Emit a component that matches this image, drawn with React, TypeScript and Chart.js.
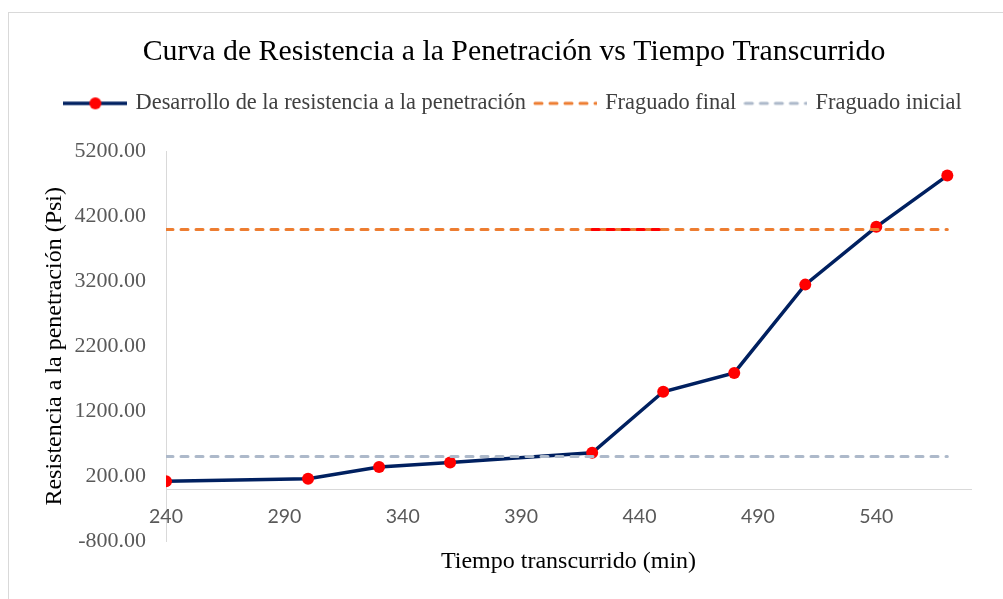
import React, { useEffect, useRef } from "react";
import { Chart, registerables } from "chart.js";

Chart.register(...registerables);

// ---- data ----
const timeMin = [240, 300, 330, 360, 420, 450, 480, 510, 540, 570];
const resistancePsi = [120, 160, 340, 410, 560, 1500, 1790, 3150, 4040, 4830];
const finalSetX = [240, 570];
const finalSetY = [4000, 4000];
const initialSetX = [240, 570];
const initialSetY = [500, 500];
const highlightX = [420, 450];
const highlightY = [4000, 4000];
const xTicks = [240, 290, 340, 390, 440, 490, 540];
const yTicks = [-800, 200, 1200, 2200, 3200, 4200, 5200];
const seriesLabels = [
  "Desarrollo de la resistencia a la penetración",
  "Fraguado final",
  "Fraguado inicial",
];
const titleText = "Curva de Resistencia a la Penetración vs Tiempo Transcurrido";
const xTitle = "Tiempo transcurrido (min)";
const yTitle = "Resistencia a la penetración (Psi)";

const NAVY = "#002060";
const RED = "#FF0000";
const ORANGE = "#ED7D31";
const BLUEGRAY = "#ADB9CA";
const SERIF = "'Liberation Serif', 'Times New Roman', serif";

function pts(xs: number[], ys: number[]) {
  return xs.map((x, i) => ({ x, y: ys[i] }));
}

function sample(color: string, dashed: boolean, dot?: string) {
  const c = document.createElement("canvas");
  c.width = 64;
  c.height = 14;
  const g = c.getContext("2d")!;
  g.strokeStyle = color;
  g.lineWidth = dashed ? 3 : 3.5;
  if (dashed) {
    g.lineCap = "round";
    g.setLineDash([7, 8]);
    g.beginPath();
    g.moveTo(2, 7);
    g.lineTo(64, 7);
    g.stroke();
  } else {
    g.beginPath();
    g.moveTo(0, 7);
    g.lineTo(64, 7);
    g.stroke();
  }
  if (dot) {
    g.fillStyle = dot;
    g.beginPath();
    g.arc(32, 7, 6, 0, Math.PI * 2);
    g.fill();
  }
  return c;
}

export default function App() {
  const ref = useRef<HTMLCanvasElement>(null);

  useEffect(() => {
    const canvas = ref.current!;
    const samples = [
      sample(NAVY, false, RED),
      sample(ORANGE, true),
      sample(BLUEGRAY, true),
    ];
    const legendGap = {
      id: "legendGap",
      beforeInit(chart: any) {
        const fit = chart.legend.fit;
        chart.legend.fit = function () {
          fit.call(this);
          this.height += 27;
        };
      },
    };
    const chart = new Chart(canvas, {
      type: "line",
      data: {
        datasets: [
          {
            label: seriesLabels[0],
            data: pts(timeMin, resistancePsi),
            borderColor: NAVY,
            backgroundColor: NAVY,
            borderWidth: 3.5,
            pointRadius: 6,
            pointBorderWidth: 0,
            pointBackgroundColor: RED,
            pointBorderColor: RED,
            tension: 0,
            order: 3,
          },
          {
            label: seriesLabels[1],
            data: pts(finalSetX, finalSetY),
            borderColor: ORANGE,
            borderWidth: 3,
            borderDash: [7, 8],
            borderCapStyle: "round",
            pointRadius: 0,
            order: 2,
          },
          {
            label: seriesLabels[2],
            data: pts(initialSetX, initialSetY),
            borderColor: BLUEGRAY,
            borderWidth: 3,
            borderDash: [7, 8],
            borderCapStyle: "round",
            pointRadius: 0,
            order: 1,
          },
          {
            label: "highlight",
            data: pts(highlightX, highlightY),
            borderColor: RED,
            borderWidth: 3,
            borderDash: [7, 8],
            borderCapStyle: "round",
            pointRadius: 0,
            order: 0,
          },
        ],
      } as any,
      options: {
        animation: false,
        responsive: false,
        layout: { padding: { top: 0, left: 0, right: 0, bottom: 22.6 } },
        plugins: {
          tooltip: { enabled: false },
          title: {
            display: true,
            text: titleText,
            color: "#000000",
            font: { family: SERIF, size: 29.8, weight: "normal" },
            padding: { top: 21.7, bottom: 11.7 },
          },
          legend: {
            display: true,
            position: "top",
            labels: {
              usePointStyle: true,
              pointStyleWidth: 58,
              boxHeight: 14,
              padding: 10,
              color: "#404040",
              font: { family: SERIF, size: 22.4 },
              generateLabels: () =>
                seriesLabels.map((t, i) => ({
                  text: t,
                  pointStyle: samples[i],
                  datasetIndex: i,
                  hidden: false,
                  fontColor: "#404040",
                  lineWidth: 0,
                  strokeStyle: "rgba(0,0,0,0)",
                  fillStyle: "rgba(0,0,0,0)",
                })) as any,
            },
          },
        },
        scales: {
          y: {
            type: "linear",
            position: "left",
            min: -800,
            max: 5200,
            afterBuildTicks: (s: any) => {
              s.ticks = yTicks.map((v) => ({ value: v }));
            },
            afterFit: (s: any) => {
              s.width = 157;
            },
            grid: { display: false, drawTicks: false },
            border: { display: true, color: "#D9D9D9", width: 1 },
            ticks: {
              padding: 20,
              color: "#595959",
              font: { family: SERIF, size: 22 },
              callback: (v: any) => Number(v).toFixed(2),
            },
            title: {
              display: true,
              text: yTitle,
              color: "#000000",
              font: { family: SERIF, size: 24 },
              padding: { top: 31.6, bottom: 0 },
            },
          },
          yR: {
            type: "linear",
            position: "right",
            display: true,
            min: -800,
            max: 5200,
            grid: { display: false, drawTicks: false },
            border: { display: false },
            ticks: { display: false },
            afterFit: (s: any) => {
              s.width = 48;
            },
          },
          x: {
            type: "linear",
            position: { y: 0 } as any,
            min: 240,
            max: 580,
            afterBuildTicks: (s: any) => {
              s.ticks = xTicks.map((v) => ({ value: v }));
            },
            grid: { display: false, drawTicks: false },
            border: { display: true, color: "#D9D9D9", width: 1 },
            ticks: {
              padding: 15.5,
              color: "#595959",
              font: { family: "Lato, 'Open Sans', sans-serif", size: 19.5 },
              maxRotation: 0,
              autoSkip: false,
            },
          },
          xT: {
            type: "linear",
            position: "bottom",
            display: true,
            min: 240,
            max: 580,
            grid: { display: false, drawTicks: false },
            border: { display: false },
            ticks: { display: false },
            title: {
              display: true,
              text: xTitle,
              color: "#000000",
              font: { family: SERIF, size: 24 },
              padding: { top: 6.6, bottom: 0 },
            },
          },
        } as any,
      },
      plugins: [legendGap],
    });
    return () => chart.destroy();
  }, []);

  return (
    <div
      style={{
        position: "fixed",
        left: 8,
        top: 12,
        width: 995,
        height: 587,
        overflow: "hidden",
        background: "#FFFFFF",
        borderLeft: "1px solid #D9D9D9",
        borderTop: "1px solid #D9D9D9",
      }}
    >
      <canvas ref={ref} width={1010} height={586} style={{ display: "block" }} />
    </div>
  );
}
